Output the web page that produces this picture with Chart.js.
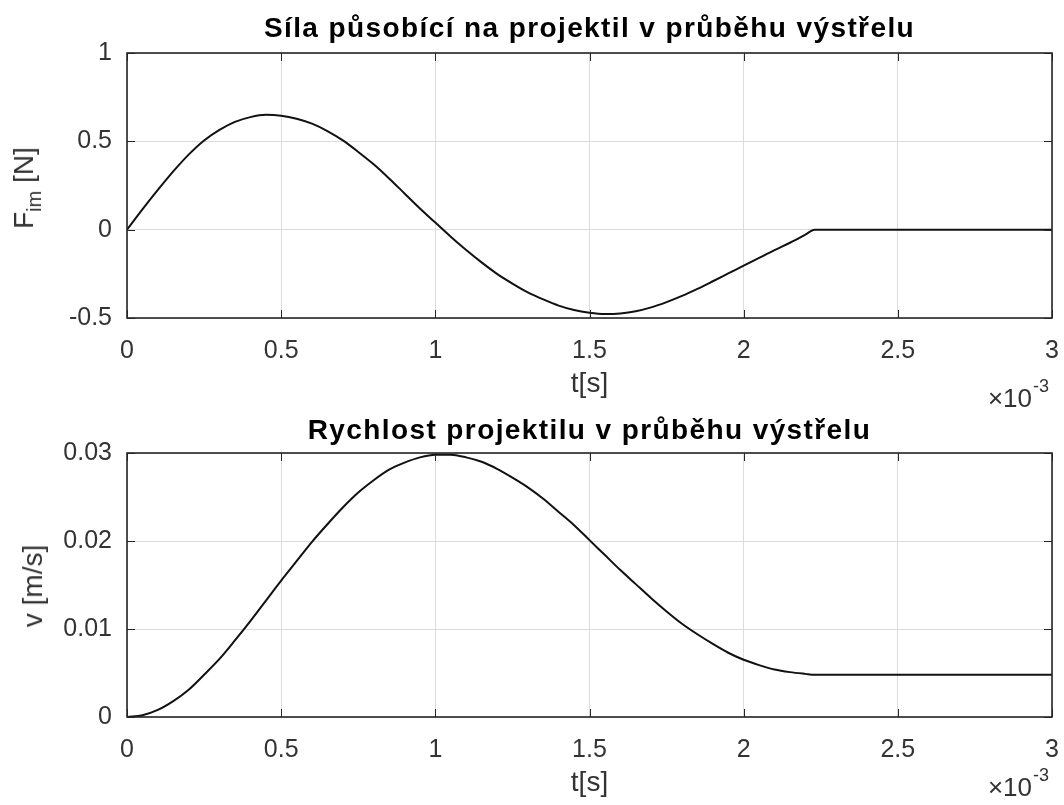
<!DOCTYPE html>
<html>
<head>
<meta charset="utf-8">
<title>Výstřel</title>
<script src="https://cdn.jsdelivr.net/npm/chart.js@4.4.1/dist/chart.umd.min.js"></script>
<style>
  html, body { margin: 0; padding: 0; background: #fff; }
  #wrap { position: relative; width: 1064px; height: 805px; overflow: hidden; }
  canvas { position: absolute; left: 0; }
  #forceChart { top: 0; }
  #speedChart { top: 410px; }
  .ylabel {
    position: absolute;
    font: 28px "Liberation Sans", Arial, Helvetica, sans-serif;
    color: #333;
    line-height: 1;
    white-space: nowrap;
    transform: translate(-50%, -50%) rotate(-90deg);
  }
  .ylabel sub { font-size: 20px; vertical-align: -8px; line-height: 1; }
</style>
</head>
<body>
<div id="wrap">
  <canvas id="forceChart" width="1064" height="410"></canvas>
  <canvas id="speedChart" width="1064" height="395"></canvas>
  <div class="ylabel" style="left: 27px; top: 188px;">F<sub>im</sub> [N]</div>
  <div class="ylabel" style="left: 33px; top: 586px;">v [m/s]</div>
</div>
<script>
// time in ms (axis shows x 10^-3 s)
const forceTime = [0, 0.05, 0.1, 0.15, 0.2, 0.25, 0.3, 0.35, 0.4, 0.45, 0.5, 0.55, 0.6, 0.65, 0.7, 0.75,
  0.8, 0.85, 0.9, 0.95, 1.0, 1.05, 1.1, 1.15, 1.2, 1.25, 1.3, 1.35, 1.4, 1.45, 1.5, 1.55, 1.6, 1.65,
  1.7, 1.75, 1.8, 1.85, 1.9, 1.95, 2.0, 2.05, 2.1, 2.15, 2.2, 2.23, 3.0];
const forceValues = [0, 0.115, 0.225, 0.33, 0.425, 0.505, 0.565, 0.61, 0.637, 0.65, 0.645, 0.628, 0.6, 0.558, 0.505, 0.44,
  0.37, 0.29, 0.205, 0.12, 0.04, -0.04, -0.115, -0.185, -0.25, -0.305, -0.355, -0.395, -0.43, -0.455, -0.47, -0.477, -0.474, -0.462,
  -0.44, -0.41, -0.375, -0.335, -0.292, -0.248, -0.204, -0.16, -0.116, -0.074, -0.028, 0, 0];

const speedTime = [0, 0.05, 0.1, 0.15, 0.2, 0.25, 0.3, 0.35, 0.4, 0.45, 0.5, 0.55, 0.6, 0.65, 0.7, 0.75,
  0.8, 0.85, 0.9, 0.95, 1.0, 1.05, 1.1, 1.15, 1.2, 1.25, 1.3, 1.35, 1.4, 1.45, 1.5, 1.55, 1.6, 1.65,
  1.7, 1.75, 1.8, 1.85, 1.9, 1.95, 2.0, 2.05, 2.1, 2.15, 2.2, 2.23, 3.0];
const speedValues = [0, 0.0002, 0.0008, 0.0018, 0.0031, 0.0048, 0.0066, 0.0087, 0.0109, 0.0132, 0.0155, 0.0177, 0.0199, 0.0219, 0.0238, 0.0255,
  0.0269, 0.0281, 0.0289, 0.0295, 0.0298, 0.0298, 0.0295, 0.029, 0.0282, 0.0272, 0.0261, 0.0248, 0.0233, 0.0218, 0.0201, 0.0184, 0.0167, 0.0151,
  0.0135, 0.012, 0.0106, 0.0094, 0.0083, 0.0073, 0.0065, 0.0059, 0.0054, 0.0051, 0.0049, 0.0048, 0.0048];

const timeTicks = [0, 0.5, 1, 1.5, 2, 2.5, 3];
const forceTicks = [-0.5, 0, 0.5, 1];
const speedTicks = [0, 0.01, 0.02, 0.03];

const FONT = '"Liberation Sans", Arial, Helvetica, sans-serif';
const AXIS_COLOR = '#262626';
const TEXT_COLOR = '#333333';
const GRID_COLOR = '#dcdcdc';

// box, inward tick marks and the text around the axes
const decorations = {
  id: 'decorations',
  afterDraw(chart, args, o) {
    const { ctx, chartArea: a, scales } = chart;
    const sx = scales.x, sy = scales.y;
    const TL = 8;
    ctx.save();
    ctx.strokeStyle = AXIS_COLOR;
    ctx.lineWidth = 1;
    ctx.beginPath();
    sx.ticks.forEach(t => {
      const px = Math.round(sx.getPixelForValue(t.value)) + 0.5;
      ctx.moveTo(px, a.bottom); ctx.lineTo(px, a.bottom - TL);
      ctx.moveTo(px, a.top); ctx.lineTo(px, a.top + TL);
    });
    sy.ticks.forEach(t => {
      const py = Math.round(sy.getPixelForValue(t.value)) + 0.5;
      ctx.moveTo(a.left, py); ctx.lineTo(a.left + TL, py);
      ctx.moveTo(a.right, py); ctx.lineTo(a.right - TL, py);
    });
    ctx.stroke();
    ctx.lineWidth = 1.6;
    ctx.strokeRect(a.left, a.top, a.right - a.left, a.bottom - a.top);

    const cx = (a.left + a.right) / 2;
    ctx.textBaseline = 'middle';

    // title
    ctx.fillStyle = '#000';
    ctx.font = 'bold 28px ' + FONT;
    ctx.textAlign = 'center';
    ctx.letterSpacing = '1.4px';
    ctx.fillText(o.title, cx, o.titleY);
    ctx.letterSpacing = '0px';

    // x label
    ctx.fillStyle = TEXT_COLOR;
    ctx.font = '28px ' + FONT;
    ctx.fillText('t[s]', cx, o.xLabelY);

    // exponent of the time axis
    ctx.textAlign = 'right';
    ctx.font = '26px ' + FONT;
    ctx.fillText('\u00d710', a.right - 20, o.expY);
    ctx.textAlign = 'left';
    ctx.font = '18px ' + FONT;
    ctx.fillText('-3', a.right - 19, o.expY - 13);
    ctx.restore();
  }
};

function fixedTicks(values) {
  return scale => { scale.ticks = values.map(v => ({ value: v })); };
}

function makeChart(id, times, values, yTicks, deco, padTop, xHeight) {
  const points = times.map((t, i) => ({ x: t, y: values[i] }));
  return new Chart(document.getElementById(id), {
    type: 'line',
    data: {
      datasets: [{
        data: points,
        borderColor: '#111111',
        borderWidth: 2,
        pointRadius: 0,
        cubicInterpolationMode: 'monotone',
        fill: false
      }]
    },
    options: {
      responsive: false,
      animation: false,
      devicePixelRatio: 1,
      layout: { padding: { top: padTop, right: 12, left: 0, bottom: 0 } },
      plugins: {
        legend: { display: false },
        tooltip: { enabled: false },
        decorations: deco
      },
      scales: {
        x: {
          type: 'linear',
          min: timeTicks[0],
          max: timeTicks[timeTicks.length - 1],
          afterBuildTicks: fixedTicks(timeTicks),
          afterFit: s => {
            s.height = xHeight;
            // let the last tick label hang into the right margin
            s.paddingLeft = 0;
            s.paddingRight = 0;
          },
          grid: { color: GRID_COLOR, lineWidth: 1, drawTicks: false },
          border: { display: false },
          ticks: {
            padding: 18,
            maxRotation: 0,
            color: TEXT_COLOR,
            font: { family: FONT, size: 25 },
            callback: v => String(v)
          }
        },
        y: {
          min: yTicks[0],
          max: yTicks[yTicks.length - 1],
          afterBuildTicks: fixedTicks(yTicks),
          afterFit: s => { s.width = 127; },
          grid: { color: GRID_COLOR, lineWidth: 1, drawTicks: false },
          border: { display: false },
          ticks: {
            padding: 15,
            color: TEXT_COLOR,
            font: { family: FONT, size: 25 },
            callback: v => String(Number(v.toFixed(4)))
          }
        }
      }
    },
    plugins: [decorations]
  });
}

makeChart('forceChart', forceTime, forceValues, forceTicks, {
  title: 'Síla působící na projektil v průběhu výstřelu',
  titleY: 29,
  xLabelY: 384,
  expY: 400
}, 53, 92);

makeChart('speedChart', speedTime, speedValues, speedTicks, {
  title: 'Rychlost projektilu v průběhu výstřelu',
  titleY: 21,
  xLabelY: 373,
  expY: 379
}, 43, 88);
</script>
</body>
</html>
